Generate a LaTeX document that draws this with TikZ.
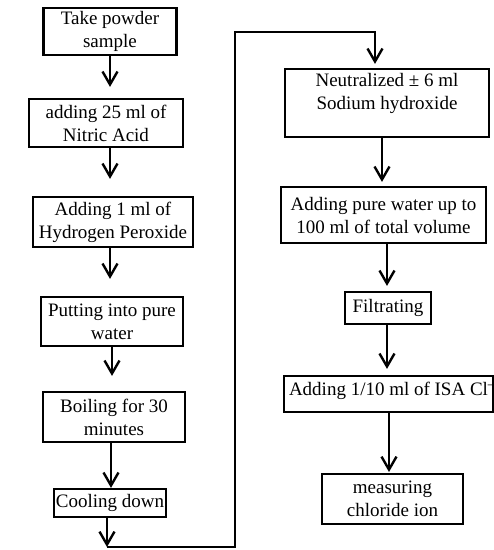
\documentclass[tikz,border=0pt]{standalone}
\usepackage{fontspec}
\setmainfont{Liberation Serif}
\usetikzlibrary{arrows.meta}
\begin{document}
\begin{tikzpicture}[x=1pt,y=-1pt,
  box/.style={draw,line width=2.2pt,align=center,inner sep=1pt,font=\fontsize{19pt}{23pt}\selectfont},
  arr/.style={line width=2.4pt,-{Straight Barb[length=13pt,width=15pt]}}]
\useasboundingbox (0,0) rectangle (494,550);
% left column
\node[box,minimum width=133,minimum height=47] (powder) at (110,31.5) {Take powder\\sample};
\node[box,minimum width=154,minimum height=48] (nitric) at (106,123) {adding 25 ml of\\Nitric Acid};
\node[box,minimum width=160,minimum height=50] (peroxide) at (113,222) {Adding 1 ml of\\Hydrogen Peroxide};
\node[box,minimum width=142,minimum height=49] (water) at (112,321.5) {Putting into pure\\water};
\node[box,minimum width=142,minimum height=50] (boil) at (114,417) {Boiling for 30\\minutes};
\node[box,minimum width=112,minimum height=28,inner sep=0pt] (cool) at (110,503) {Cooling down};
% right column
\node[box,minimum width=204,minimum height=68] (neutral) at (387,103) {Neutralized ± 6 ml\\Sodium hydroxide\\~};
\node[box,minimum width=205,minimum height=56] (volume) at (383.5,215) {Adding pure water up to\\100 ml of total volume};
\node[box,minimum width=86,minimum height=32] (filter) at (388,308) {Filtrating};
\node[box,minimum width=209,minimum height=36] (isa) at (388.5,394) {\raisebox{0pt}[12pt][10pt]{\makebox[199pt][l]{Adding 1/10 ml of ISA Cl\textsuperscript{--}}}};
\node[box,minimum width=141,minimum height=50] (measure) at (392.5,499) {measuring\\chloride ion};
% arrows
\coordinate (mtop) at (389,472);
\draw[arr] ([xshift=0.5pt]isa.south) -- (mtop);
\draw[arr,shorten >=11pt] (powder.south) -- (powder.south |- nitric.north);
\draw[arr,shorten >=17pt] ([xshift=4pt]nitric.south) -- ([xshift=4pt]nitric.south |- peroxide.north);
\draw[arr,shorten >=17pt] ([xshift=-3pt]peroxide.south) -- ([xshift=-3pt]peroxide.south |- water.north);
\draw[arr,shorten >=15pt] (water.south) -- (water.south |- boil.north);
\draw[arr] ([xshift=-3pt]boil.south) -- ([xshift=-3pt]boil.south |- cool.north);
\coordinate (turn) at (107,547);
\coordinate (top) at (235,32);
\draw[arr] ([xshift=-3pt]cool.south) -- (turn);
\draw[arr,shorten >=4pt] (turn) -| (top) -| ([xshift=-12pt]neutral.north);
\draw[arr,shorten >=4pt] ([xshift=-5pt]neutral.south) -- ([xshift=-5pt]neutral.south |- volume.north);
\draw[arr,shorten >=5pt] ([xshift=3.5pt]volume.south) -- ([xshift=3.5pt]volume.south |- filter.north);
\draw[arr,shorten >=6pt] ([xshift=-1pt]filter.south) -- ([xshift=-1pt]filter.south |- isa.north);
\end{tikzpicture}
\end{document}
